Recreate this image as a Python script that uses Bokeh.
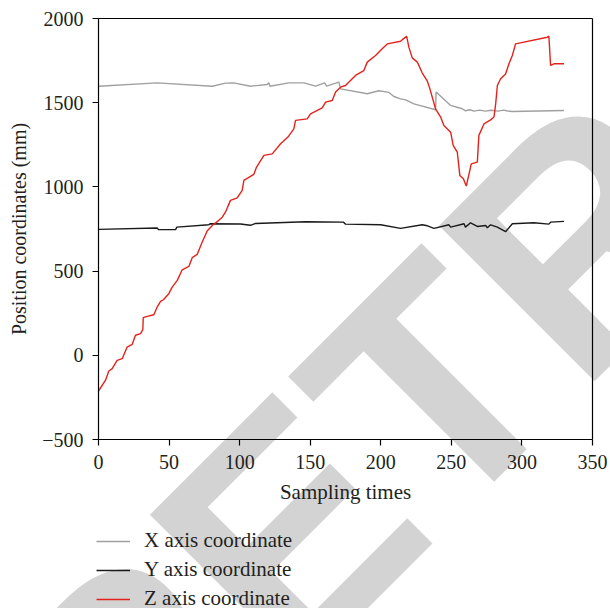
from bokeh.plotting import figure
from bokeh.models import (Range1d, SingleIntervalTicker, FixedTicker, Legend,
                          LegendItem, Label, LinearAxis)
from bokeh.embed import file_html
from bokeh.resources import INLINE

# ---- data ----
x_t = [0, 41.6, 80.6, 90, 95.8, 107.7, 119.5, 120.7, 121.5, 134.9, 145.5, 153.8, 160.2,
       161.6, 170.3, 171.5, 190.4, 198.7, 205.8, 209.3, 214, 217.6, 223.5, 238.8, 239.2,
       249.5, 257.7, 260, 263, 266, 270, 274, 278, 283, 287, 290, 293, 329.8]
x_val = [1598, 1618, 1598, 1616, 1618, 1598, 1608, 1618, 1598, 1618, 1618, 1598, 1618,
         1598, 1622, 1582, 1553, 1571, 1561, 1537, 1523, 1517, 1493, 1458, 1563,
         1484, 1464, 1452, 1458, 1450, 1456, 1450, 1455, 1450, 1456, 1451, 1448, 1454]

y_t = [0, 41.6, 42.5, 54.6, 55.5, 78.2, 79, 100.6, 107.7, 111.3, 146.7, 173.4, 175,
       199.9, 214, 229.4, 233, 237.7, 248.3, 249.5, 259, 260, 263.6, 268.4, 274.3,
       275.5, 277.8, 282.6, 288.4, 293.2, 308.5, 319.1, 320.5, 329.8]
y_val = [748, 756, 746, 746, 761, 775, 781, 780, 772, 783, 793, 791, 779,
         775, 754, 775, 769, 754, 775, 761, 781, 761, 787, 765, 771,
         757, 775, 761, 734, 781, 787, 779, 791, 795]

z_t = [0, 5, 7.3, 9.7, 13.2, 16.8, 20.3, 23.9, 26.2, 29.8, 31.4, 31.7, 34.5, 39.2,
       41.6, 44, 46, 49.8, 52.2, 55.8, 59.3, 64, 66.4, 69.9, 73.5, 77, 80.6, 85,
       87.7, 90, 93.5, 98.3, 101.8, 103, 107.7, 110, 112, 117.2, 123.1, 129, 134.2,
       138.4, 139.6, 147.9, 150.2, 158.5, 160.9, 165.6, 168, 171.5, 175, 182.1, 188,
       190.4, 196.3, 201, 204.6, 214, 216, 218.3, 219.9, 222.3, 225.9, 229.4, 233,
       234.8, 238.8, 242.4, 244.7, 249.5, 251.3, 254.2, 256, 258.5, 260.6, 264.1,
       268.4, 269.5, 273.1, 277.8, 280.2, 281.4, 282.6, 284.9, 288.4, 290.8, 293.2,
       295.5, 318, 319.1, 320.3, 322.7, 329.8]
z_val = [-212, -148, -93, -79, -30, -20, 49, 65, 119, 129, 152, 224, 231, 241,
         287, 320, 330, 366, 405, 445, 508, 528, 580, 599, 673, 738, 771, 800,
         820, 851, 920, 935, 979, 1039, 1062, 1074, 1118, 1187, 1196, 1256, 1296,
         1345, 1395, 1404, 1434, 1469, 1503, 1513, 1563, 1592, 1602, 1662, 1691,
         1741, 1780, 1820, 1849, 1865, 1879, 1895, 1830, 1766, 1741, 1676, 1628,
         1582, 1464, 1415, 1365, 1325, 1246, 1207, 1068, 1048, 1005, 1137,
         1147, 1306, 1374, 1398, 1415, 1493, 1602, 1642, 1671, 1731, 1780,
         1849, 1889, 1895, 1721, 1731, 1731]

series_labels = ["X axis coordinate", "Y axis coordinate", "Z axis coordinate"]
series_colors = ["#a0a0a0", "#1a1a1a", "#e3231b"]
x_lim = (0, 350)
y_lim = (-500, 2000)
y_tick_overrides = {-500: "\u2212500"}
watermark_text = "RETRACTED"

SERIF = "Liberation Serif"
TXT = "#231f20"

# the plot frame fills the whole canvas; axes sit at fixed data locations
W, H = 610, 608
fl, fr, ft, fb = 98, 592, 18, 439          # pixel box of the axes
sx = (fr - fl) / (x_lim[1] - x_lim[0])
sy = (fb - ft) / (y_lim[1] - y_lim[0])
xr = Range1d(x_lim[0] - fl / sx, x_lim[1] + (W - fr) / sx)
yr = Range1d(y_lim[0] - (H - fb) / sy, y_lim[1] + ft / sy)

p = figure(width=W, height=H, output_backend="svg", toolbar_location=None,
           x_range=xr, y_range=yr, x_axis_location=None, y_axis_location=None,
           min_border=0)
p.grid.visible = False
p.outline_line_color = None
p.background_fill_color = "white"
p.border_fill_color = "white"

# watermark
wm = Label(x=48, y=-162, x_units="screen", y_units="screen", text=watermark_text,
           angle=45, angle_units="deg", text_font="Liberation Sans",
           text_font_style="bold", text_font_size="320px", text_color="#d3d3d3",
           text_baseline="alphabetic", text_align="left", level="underlay")
p.add_layout(wm)

rx = p.line(x_t, x_val, line_color=series_colors[0], line_width=1.4)
ry = p.line(y_t, y_val, line_color=series_colors[1], line_width=1.4)
rz = p.line(z_t, z_val, line_color=series_colors[2], line_width=1.4)


def style(ax):
    ax.axis_line_color = "black"
    ax.axis_line_width = 1.2
    ax.major_tick_line_color = "black"
    ax.major_tick_line_width = 1.2
    ax.major_tick_in = 0
    ax.major_tick_out = 6
    ax.minor_tick_line_color = None
    ax.major_label_text_font = SERIF
    ax.major_label_text_font_size = "20px"
    ax.major_label_text_color = TXT
    ax.axis_label_text_font = SERIF
    ax.axis_label_text_font_style = "normal"
    ax.axis_label_text_color = TXT
    ax.major_label_standoff = 9


xaxis = LinearAxis(fixed_location=y_lim[0], bounds=x_lim,
                   ticker=SingleIntervalTicker(interval=50, num_minor_ticks=0),
                   axis_label="Sampling times", axis_label_standoff=8)
style(xaxis)
xaxis.axis_label_text_font_size = "21px"
yaxis = LinearAxis(fixed_location=x_lim[0], bounds=y_lim,
                   ticker=SingleIntervalTicker(interval=500, num_minor_ticks=0),
                   axis_label="Position coordinates (mm)", axis_label_standoff=9,
                   major_label_overrides=y_tick_overrides)
style(yaxis)
yaxis.axis_label_text_font_size = "20px"
p.add_layout(xaxis, "below")
p.add_layout(yaxis, "left")

# frame borders (top and right)
for loc, fixed, bnds in (("right", x_lim[1], y_lim), ("above", y_lim[1], x_lim)):
    b = LinearAxis(fixed_location=fixed, bounds=bnds, ticker=FixedTicker(ticks=[]),
                   axis_line_color="black", axis_line_width=1.2,
                   major_tick_line_color=None, minor_tick_line_color=None,
                   major_label_text_font_size="0px")
    p.add_layout(b, loc)

legend = Legend(items=[LegendItem(label=series_labels[0], renderers=[rx]),
                       LegendItem(label=series_labels[1], renderers=[ry]),
                       LegendItem(label=series_labels[2], renderers=[rz])],
                location=(96, -3), orientation="vertical",
                border_line_color=None, background_fill_alpha=0,
                label_text_font=SERIF, label_text_font_size="21px",
                label_text_color=TXT,
                glyph_width=34, glyph_height=20, label_height=20,
                label_standoff=14, spacing=4, padding=0, margin=0)
p.add_layout(legend)

open("out.html", "w").write(file_html(p, INLINE))
